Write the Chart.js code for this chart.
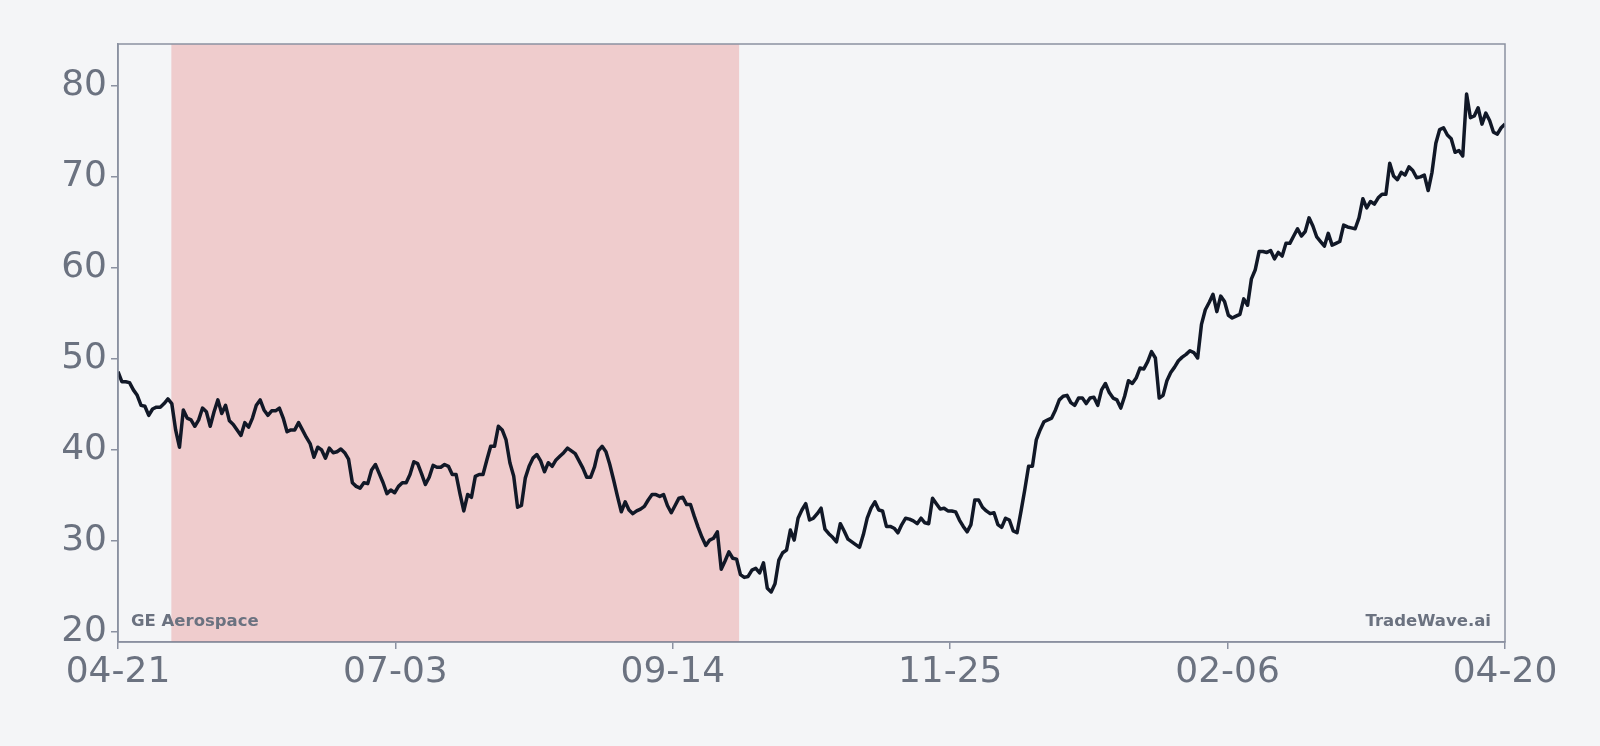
<!DOCTYPE html>
<html>
<head>
<meta charset="utf-8">
<script src="https://cdn.jsdelivr.net/npm/chart.js@4/dist/chart.umd.min.js"></script>
<style>
  html, body { margin: 0; background: #f4f5f7; }
  #wrap { width: 1600px; height: 746px; }
</style>
</head>
<body>
<div id="wrap"><canvas id="chart"></canvas></div>
<script>
// x axis: days from 04-21 to 04-20
const tickLabels = ['04-21', '07-03', '09-14', '11-25', '02-06', '04-20'];
const spanDays = 364;
const shadeStartDay = 14;   // 05-05
const shadeEndDay = 163;    // 10-01
const yTicks = [20, 30, 40, 50, 60, 70, 80];

// closing prices
const prices = [
  48.6, 47.5, 47.5, 47.4, 46.6, 46.0, 44.9, 44.8, 43.8, 44.5, 44.7, 44.7, 45.1, 45.6, 45.1, 42.2, 40.3, 44.4, 43.5, 43.3,
  42.6, 43.3, 44.6, 44.2, 42.6, 44.2, 45.5, 44.0, 44.9, 43.2, 42.8, 42.2, 41.6, 43.0, 42.5, 43.5, 44.9, 45.5, 44.4, 43.8,
  44.3, 44.3, 44.6, 43.5, 42.0, 42.2, 42.2, 43.0, 42.2, 41.4, 40.7, 39.2, 40.3, 40.0, 39.1, 40.2, 39.7, 39.8, 40.1, 39.7,
  39.0, 36.4, 36.0, 35.8, 36.4, 36.3, 37.8, 38.4, 37.4, 36.4, 35.2, 35.6, 35.3, 36.0, 36.4, 36.4, 37.3, 38.7, 38.5, 37.4,
  36.2, 37.0, 38.3, 38.1, 38.1, 38.4, 38.2, 37.3, 37.3, 35.2, 33.3, 35.1, 34.8, 37.1, 37.3, 37.3, 38.9, 40.4, 40.4, 42.6,
  42.2, 41.1, 38.6, 37.1, 33.7, 33.9, 36.9, 38.2, 39.1, 39.5, 38.8, 37.6, 38.6, 38.2, 38.9, 39.3, 39.7, 40.2, 39.9, 39.6,
  38.8, 38.0, 37.0, 37.0, 38.1, 39.9, 40.4, 39.8, 38.4, 36.7, 34.9, 33.2, 34.3, 33.4, 33.0, 33.3, 33.5, 33.8, 34.5, 35.1,
  35.1, 34.9, 35.1, 33.9, 33.1, 33.9, 34.7, 34.8, 34.0, 34.0, 32.7, 31.5, 30.4, 29.5, 30.1, 30.3, 31.0, 26.9, 27.8, 28.8,
  28.1, 28.0, 26.3, 26.0, 26.1, 26.8, 27.0, 26.5, 27.6, 24.8, 24.4, 25.3, 27.9, 28.7, 29.0, 31.2, 30.1, 32.5, 33.4, 34.1,
  32.3, 32.5, 33.0, 33.6, 31.3, 30.8, 30.4, 29.9, 31.9, 31.1, 30.2, 29.9, 29.6, 29.3, 30.7, 32.5, 33.6, 34.3, 33.4, 33.3,
  31.6, 31.6, 31.4, 30.9, 31.8, 32.5, 32.4, 32.2, 31.9, 32.5, 32.0, 31.9, 34.7, 34.1, 33.5, 33.6, 33.3, 33.3, 33.2, 32.3,
  31.6, 31.0, 31.8, 34.5, 34.5, 33.7, 33.3, 33.0, 33.1, 31.8, 31.5, 32.5, 32.3, 31.1, 30.9, 33.2, 35.6, 38.2, 38.2, 41.1,
  42.2, 43.1, 43.3, 43.5, 44.4, 45.5, 45.9, 46.0, 45.2, 44.9, 45.7, 45.7, 45.1, 45.7, 45.8, 44.9, 46.6, 47.3, 46.3, 45.7,
  45.5, 44.6, 45.9, 47.6, 47.3, 47.9, 49.0, 48.9, 49.7, 50.8, 50.1, 45.7, 46.0, 47.6, 48.5, 49.1, 49.8, 50.2, 50.5, 50.9,
  50.7, 50.1, 53.8, 55.4, 56.2, 57.1, 55.2, 56.9, 56.3, 54.8, 54.5, 54.7, 54.9, 56.6, 55.9, 58.8, 59.8, 61.8, 61.8, 61.7,
  61.9, 61.0, 61.7, 61.3, 62.7, 62.7, 63.5, 64.3, 63.5, 64.0, 65.5, 64.6, 63.4, 62.9, 62.4, 63.8, 62.5, 62.7, 62.9, 64.7,
  64.5, 64.4, 64.3, 65.5, 67.6, 66.6, 67.3, 67.0, 67.7, 68.1, 68.1, 71.5, 70.1, 69.7, 70.5, 70.2, 71.1, 70.7, 69.9, 70.0,
  70.2, 68.5, 70.5, 73.7, 75.2, 75.4, 74.6, 74.2, 72.7, 72.9, 72.3, 79.1, 76.5, 76.7, 77.6, 75.8, 77.0, 76.2, 74.9, 74.7,
  75.4, 75.8
];

const tickDays = tickLabels.map((_, i) => spanDays * i / (tickLabels.length - 1));
const points = prices.map((v, i) => ({ x: spanDays * i / (prices.length - 1), y: v }));

const axisColor = '#8b91a1';
const labelColor = '#6b7280';

// red band behind the line + frame + watermarks
const decor = {
  id: 'decor',
  beforeDatasetsDraw(chart) {
    const { ctx, chartArea, scales } = chart;
    const x0 = scales.x.getPixelForValue(shadeStartDay);
    const x1 = scales.x.getPixelForValue(shadeEndDay);
    ctx.save();
    ctx.fillStyle = 'rgba(220, 38, 38, 0.2)';
    ctx.fillRect(x0, chartArea.top, x1 - x0, chartArea.bottom - chartArea.top);
    ctx.restore();
  },
  afterDraw(chart) {
    const { ctx, chartArea } = chart;
    ctx.save();
    ctx.strokeStyle = axisColor;
    ctx.lineWidth = 1.5;
    ctx.strokeRect(chartArea.left, chartArea.top, chartArea.right - chartArea.left, chartArea.bottom - chartArea.top);
    ctx.font = 'bold 16.5px "DejaVu Sans"';
    ctx.fillStyle = labelColor;
    ctx.textBaseline = 'middle';
    ctx.textAlign = 'left';
    ctx.fillText('GE Aerospace', chartArea.left + 13, chartArea.bottom - 20);
    ctx.textAlign = 'right';
    ctx.fillText('TradeWave.ai', chartArea.right - 14, chartArea.bottom - 20);
    ctx.restore();
  }
};

new Chart(document.getElementById('chart'), {
  type: 'line',
  data: {
    datasets: [{
      data: points,
      borderColor: '#111827',
      borderWidth: 3.5,
      borderJoinStyle: 'round',
      pointRadius: 0,
      tension: 0,
    }]
  },
  options: {
    responsive: true,
    maintainAspectRatio: false,
    animation: false,
    layout: { padding: { top: 44, right: 95, left: 0, bottom: 0 } },
    plugins: { legend: { display: false }, tooltip: { enabled: false } },
    scales: {
      x: {
        type: 'linear',
        min: 0,
        max: spanDays,
        afterBuildTicks: (axis) => { axis.ticks = tickDays.map(v => ({ value: v })); },
        afterFit: (axis) => { axis.height = 104; },
        ticks: {
          callback: (v, i) => tickLabels[i],
          font: { family: 'DejaVu Sans', size: 36 },
          color: labelColor,
          padding: 2,
          maxRotation: 0,
          autoSkip: false,
        },
        grid: { drawOnChartArea: false, tickLength: 7, color: axisColor, lineWidth: 1.5 },
        border: { color: axisColor, width: 1.5 },
      },
      y: {
        min: 18.9,
        max: 84.6,
        afterBuildTicks: (axis) => { axis.ticks = yTicks.map(v => ({ value: v })); },
        afterFit: (axis) => { axis.width = 118; },
        ticks: {
          font: { family: 'DejaVu Sans', size: 36 },
          color: labelColor,
          padding: 4,
        },
        grid: { drawOnChartArea: false, tickLength: 7, color: axisColor, lineWidth: 1.5 },
        border: { color: axisColor, width: 1.5 },
      }
    }
  },
  plugins: [decor]
});
</script>
</body>
</html>
